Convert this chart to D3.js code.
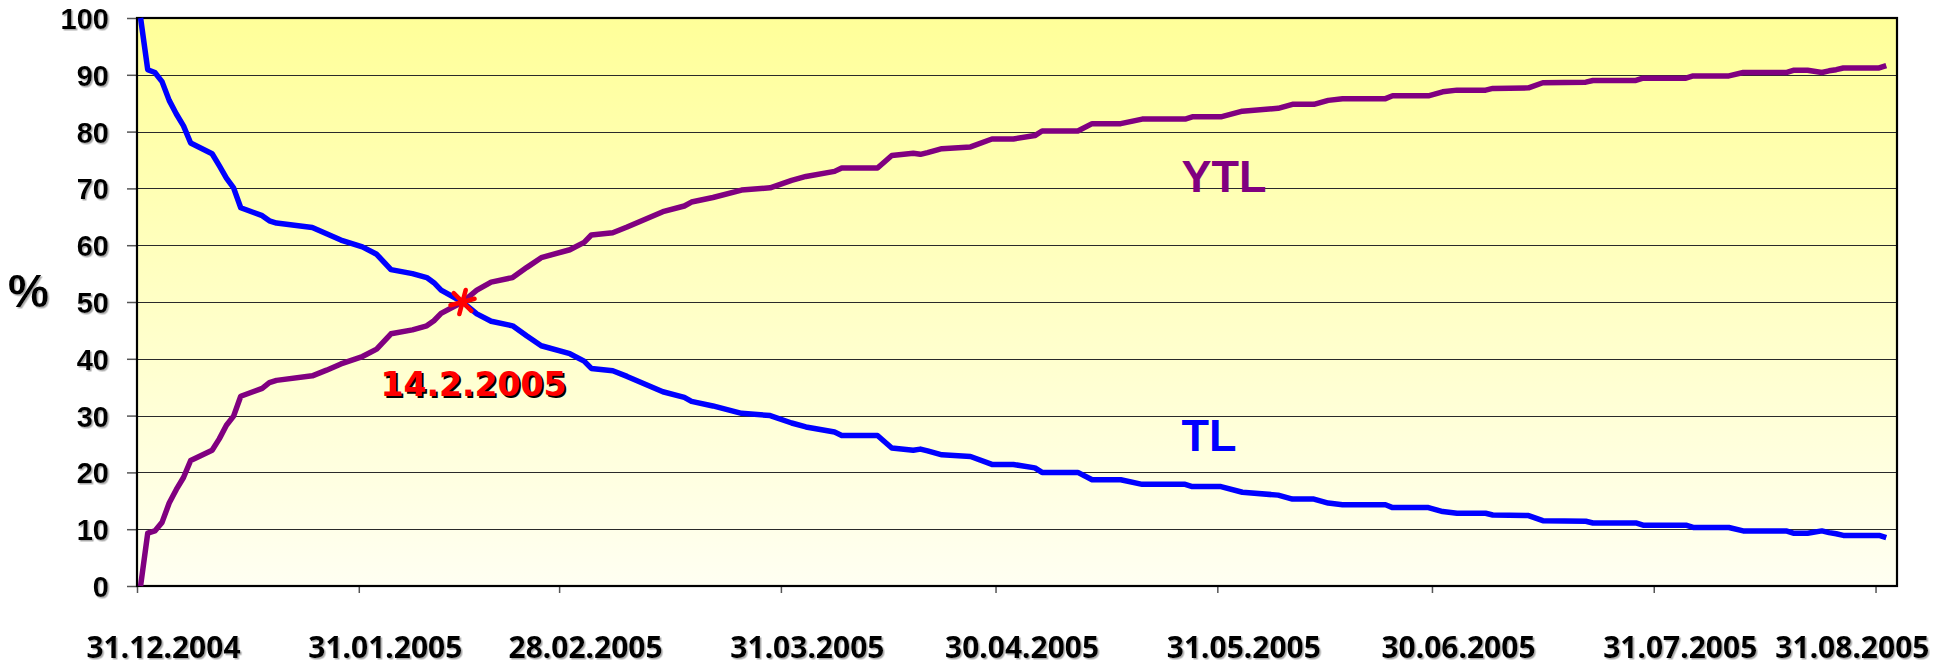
<!DOCTYPE html>
<html>
<head>
<meta charset="utf-8">
<script src="https://cdn.jsdelivr.net/npm/d3@7"></script>
<style>
  body { margin: 0; background: #ffffff; }
</style>
</head>
<body>
<div id="chart"></div>
<script>

// data (dates where the lines bend)
const dates = [
  "2004-12-31","2005-01-01","2005-01-02","2005-01-03","2005-01-04","2005-01-05","2005-01-06","2005-01-07",
  "2005-01-10","2005-01-11","2005-01-12","2005-01-13","2005-01-14","2005-01-17","2005-01-18","2005-01-19",
  "2005-01-24","2005-01-26","2005-01-28","2005-01-31","2005-02-02","2005-02-04","2005-02-07","2005-02-09",
  "2005-02-10","2005-02-11","2005-02-14","2005-02-16","2005-02-18","2005-02-21","2005-02-23","2005-02-25",
  "2005-03-01","2005-03-03","2005-03-04","2005-03-07","2005-03-09","2005-03-14","2005-03-17","2005-03-18",
  "2005-03-21","2005-03-25","2005-03-29","2005-04-01","2005-04-03","2005-04-07","2005-04-08","2005-04-13",
  "2005-04-15","2005-04-18","2005-04-19","2005-04-20","2005-04-22","2005-04-26","2005-04-29","2005-05-02",
  "2005-05-05","2005-05-06","2005-05-11","2005-05-13","2005-05-17","2005-05-20","2005-05-26","2005-05-27",
  "2005-05-31","2005-06-03","2005-06-08","2005-06-10","2005-06-13","2005-06-15","2005-06-17","2005-06-23",
  "2005-06-24","2005-06-29","2005-07-01","2005-07-03","2005-07-07","2005-07-08","2005-07-13","2005-07-15",
  "2005-07-21","2005-07-22","2005-07-28","2005-07-29","2005-08-04","2005-08-05","2005-08-10","2005-08-12",
  "2005-08-18","2005-08-19","2005-08-21","2005-08-23","2005-08-24","2005-08-25","2005-08-26","2005-08-31",
  "2005-09-01"
]

const tlValues = [
  100, 90.9, 90.4, 88.8, 85.5, 83.1, 81.0, 78.0,
  76.1, 74.0, 71.8, 70.1, 66.6, 65.2, 64.3, 63.9,
  63.1, 62.0, 60.9, 59.7, 58.4, 55.7, 55.0, 54.3,
  53.4, 52.1, 50.0, 47.9, 46.6, 45.8, 44.0, 42.3,
  40.9, 39.6, 38.3, 37.9, 36.9, 34.2, 33.2, 32.5,
  31.7, 30.4, 30.0, 28.7, 28.0, 27.1, 26.5, 26.5,
  24.3, 23.9, 24.1, 23.8, 23.1, 22.8, 21.4, 21.4,
  20.8, 20.0, 20.0, 18.7, 18.7, 17.9, 17.9, 17.5,
  17.5, 16.5, 16.0, 15.3, 15.3, 14.6, 14.3, 14.3,
  13.8, 13.8, 13.1, 12.8, 12.8, 12.5, 12.4, 11.5,
  11.4, 11.1, 11.1, 10.7, 10.7, 10.3, 10.3, 9.7,
  9.7, 9.3, 9.3, 9.7, 9.4, 9.2, 8.9, 8.9,
  8.5
]

const ytlValues = [
  0, 9.3, 9.7, 11.2, 14.6, 17.0, 19.1, 22.1,
  23.9, 25.9, 28.3, 29.9, 33.4, 34.8, 35.8, 36.2,
  37.0, 38.0, 39.1, 40.4, 41.7, 44.4, 45.1, 45.8,
  46.7, 48.0, 50.0, 52.1, 53.5, 54.3, 56.1, 57.8,
  59.2, 60.5, 61.8, 62.2, 63.2, 65.9, 66.9, 67.6,
  68.4, 69.7, 70.1, 71.4, 72.1, 73.0, 73.6, 73.6,
  75.8, 76.2, 76.0, 76.3, 77.0, 77.3, 78.7, 78.7,
  79.3, 80.1, 80.1, 81.4, 81.4, 82.2, 82.2, 82.6,
  82.6, 83.6, 84.1, 84.8, 84.8, 85.5, 85.8, 85.8,
  86.3, 86.3, 87.0, 87.3, 87.3, 87.6, 87.7, 88.6,
  88.7, 89.0, 89.0, 89.4, 89.4, 89.8, 89.8, 90.4,
  90.4, 90.8, 90.8, 90.4, 90.7, 90.9, 91.2, 91.2,
  91.6
]

const tickDates = [
  "2004-12-31","2005-01-31","2005-02-28","2005-03-31","2005-04-30",
  "2005-05-31","2005-06-30","2005-07-31","2005-08-31"
]
const yTicks = [0, 10, 20, 30, 40, 50, 60, 70, 80, 90, 100]

const crossDate = "2005-02-14"
const crossValue = 50
const crossLabel = "14.2.2005"

function drawChart(){

    const dateParser = d3.utcParse("%Y-%m-%d")
    const dateFormat = d3.utcFormat("%d.%m.%Y")
    const noon = d => d3.utcHour.offset(dateParser(d), 12)

    // 1. rows
    const rows = dates.map((d, i) => ({date: noon(d), tl: tlValues[i], ytl: ytlValues[i]}))

    // 2. dimensions
    let dimensions = {
        width: 1939,
        height: 667,
        margin: {
            top: 18,
            right: 42,
            bottom: 81,
            left: 137,
        },
    }
    dimensions.boundedWidth = dimensions.width
        - dimensions.margin.left
        - dimensions.margin.right
    dimensions.boundedHeight = dimensions.height
        - dimensions.margin.top
        - dimensions.margin.bottom

    // 3. canvas
    const wrapper = d3.select("#chart")
      .append("svg")
        .attr("width", dimensions.width)
        .attr("height", dimensions.height)
        .style("display", "block")

    const defs = wrapper.append("defs")
    const grad = defs.append("linearGradient")
        .attr("id", "bg")
        .attr("x1", 0).attr("y1", 0)
        .attr("x2", 0).attr("y2", 1)
    grad.append("stop").attr("offset", "0%").attr("stop-color", "#ffff99")
    grad.append("stop").attr("offset", "100%").attr("stop-color", "#fffff2")

    const shadow = defs.append("filter")
        .attr("id", "shadow")
        .attr("x", "-10%").attr("y", "-20%")
        .attr("width", "130%").attr("height", "150%")
    shadow.append("feDropShadow")
        .attr("dx", 1.5).attr("dy", 1.5)
        .attr("stdDeviation", 0.7)
        .attr("flood-color", "#888")
        .attr("flood-opacity", 0.7)

    const bounds = wrapper.append("g")
        .attr("transform", `translate(${dimensions.margin.left},${dimensions.margin.top})`)

    // 4. scales
    const xScale = d3.scaleUtc()
        .domain([dateParser("2004-12-31"), dateParser("2005-09-03")])
        .range([0, dimensions.boundedWidth])

    const yScale = d3.scaleLinear()
        .domain([0, 100])
        .range([dimensions.boundedHeight, 0])

    // background + gridlines
    bounds.append("rect")
        .attr("width", dimensions.boundedWidth)
        .attr("height", dimensions.boundedHeight)
        .attr("fill", "url(#bg)")

    bounds.append("g")
        .selectAll("line")
        .data(yTicks.filter(v => v > 0 && v < 100))
        .join("line")
            .attr("x1", 0)
            .attr("x2", dimensions.boundedWidth)
            .attr("y1", v => Math.round(yScale(v)) + 0.5)
            .attr("y2", v => Math.round(yScale(v)) + 0.5)
            .attr("stroke", "#2a2a2a")
            .attr("stroke-width", 1.2)

    // 5. axes
    const yAxis = bounds.append("g")
        .call(d3.axisLeft(yScale)
            .tickValues(yTicks)
            .tickSize(10)
            .tickSizeOuter(0)
            .tickPadding(18))
    yAxis.select(".domain").remove()
    yAxis.selectAll(".tick line")
        .attr("stroke", "#555")
        .attr("stroke-width", 1.5)
    yAxis.selectAll(".tick text")
        .attr("font-family", "'Liberation Sans', Arial, sans-serif")
        .attr("font-weight", "bold")
        .attr("font-size", 29)
        .attr("fill", "#000")
        .attr("dy", "0.36em")
        .attr("filter", "url(#shadow)")

    const xAxis = bounds.append("g")
        .attr("transform", `translate(0,${dimensions.boundedHeight})`)
        .call(d3.axisBottom(xScale)
            .tickValues(tickDates.map(dateParser))
            .tickFormat(dateFormat)
            .tickSize(7)
            .tickSizeOuter(0)
            .tickPadding(44))
    xAxis.select(".domain").remove()
    xAxis.selectAll(".tick line")
        .attr("stroke", "#555")
        .attr("stroke-width", 1.5)
    const labelShift = 26
    xAxis.selectAll(".tick text")
        .attr("font-family", "'Noto Sans', 'DejaVu Sans', sans-serif")
        .attr("font-weight", "bold")
        .attr("font-size", 30)
        .attr("fill", "#000")
        .attr("filter", "url(#shadow)")
        .attr("dx", labelShift)
        .each(function(d){
            // keep the last label inside the picture, as the original does
            const half = this.getComputedTextLength() / 2
            const center = dimensions.margin.left + xScale(d) + labelShift
            const overflow = center + half - (dimensions.width - 10)
            if (overflow > 0) d3.select(this).attr("dx", labelShift - overflow)
        })

    // frame
    bounds.append("rect")
        .attr("width", dimensions.boundedWidth)
        .attr("height", dimensions.boundedHeight)
        .attr("fill", "none")
        .attr("stroke", "#000")
        .attr("stroke-width", 2.2)

    // 6. lines
    const lineGenerator = (key) => d3.line()
        .x(r => xScale(r.date))
        .y(r => yScale(r[key]))

    bounds.append("path")
        .attr("d", lineGenerator("ytl")(rows))
        .attr("fill", "none")
        .attr("stroke", "#800080")
        .attr("stroke-width", 5.5)
        .attr("stroke-linejoin", "round")

    bounds.append("path")
        .attr("d", lineGenerator("tl")(rows))
        .attr("fill", "none")
        .attr("stroke", "#0000ff")
        .attr("stroke-width", 5.5)
        .attr("stroke-linejoin", "round")

    // crossing marker
    bounds.append("path")
        .attr("d", d3.symbol(d3.symbolAsterisk, 440)())
        .attr("transform", `translate(${xScale(noon(crossDate))},${yScale(crossValue)}) rotate(15)`)
        .attr("fill", "none")
        .attr("stroke", "#ff0000")
        .attr("stroke-width", 4.5)
        .attr("stroke-linecap", "round")

    // 7. peripherals
    const crossX = xScale(noon(crossDate)) + 11
    const crossY = yScale(33.4)
    bounds.append("text")
        .attr("x", crossX + 2)
        .attr("y", crossY + 2)
        .attr("text-anchor", "middle")
        .attr("font-family", "'DejaVu Sans', Verdana, sans-serif")
        .attr("font-weight", "bold")
        .attr("font-size", 33)
        .attr("fill", "#000")
        .text(crossLabel)
    bounds.append("text")
        .attr("x", crossX)
        .attr("y", crossY)
        .attr("text-anchor", "middle")
        .attr("font-family", "'DejaVu Sans', Verdana, sans-serif")
        .attr("font-weight", "bold")
        .attr("font-size", 33)
        .attr("fill", "#ff0000")
        .text(crossLabel)

    bounds.append("text")
        .attr("x", xScale(dateParser("2005-05-26")))
        .attr("y", yScale(69.3))
        .attr("font-family", "'Liberation Sans', Arial, sans-serif")
        .attr("font-weight", "bold")
        .attr("font-size", 45)
        .attr("fill", "#800080")
        .text("YTL")

    bounds.append("text")
        .attr("x", xScale(dateParser("2005-05-26")))
        .attr("y", yScale(23.8))
        .attr("font-family", "'Liberation Sans', Arial, sans-serif")
        .attr("font-weight", "bold")
        .attr("font-size", 45)
        .attr("fill", "#0000ff")
        .text("TL")

    wrapper.append("text")
        .attr("x", 8)
        .attr("y", dimensions.margin.top + yScale(49.2))
        .attr("font-family", "'Liberation Sans', Arial, sans-serif")
        .attr("font-weight", "bold")
        .attr("font-size", 46)
        .attr("fill", "#000")
        .attr("filter", "url(#shadow)")
        .text("%")
}

drawChart()
</script>
</body>
</html>
